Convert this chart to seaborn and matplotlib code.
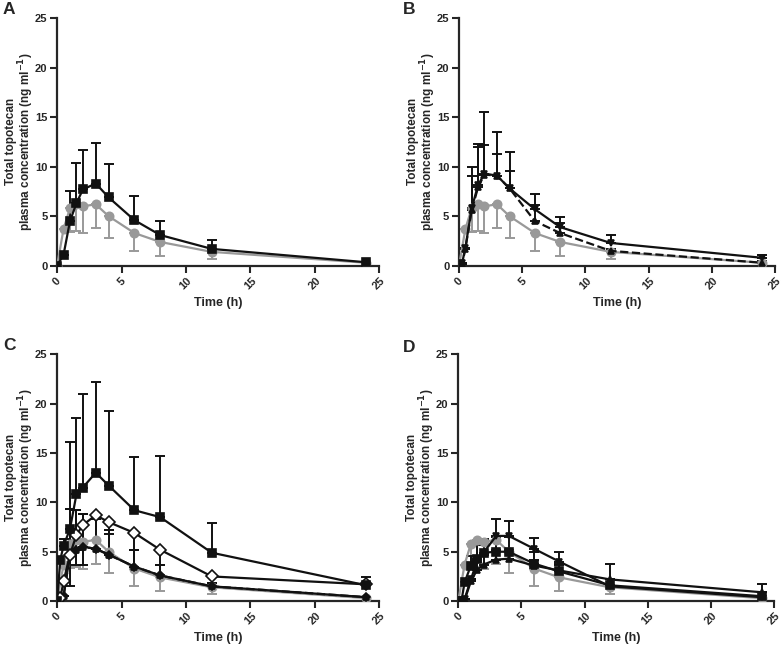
import numpy as np
import pandas as pd
import matplotlib
matplotlib.use("Agg")
import matplotlib.pyplot as plt
import seaborn as sns

sns.set_style("ticks")
plt.rcParams['font.family'] = ['Liberation Sans', 'DejaVu Sans']
plt.rcParams['font.weight'] = 'bold'

# time points (h)
t_full = [0, 0.25, 0.5, 1, 1.5, 2, 3, 4, 6, 8, 12, 24]
t_std = [0, 0.5, 1, 1.5, 2, 3, 4, 6, 8, 12, 24]

# reference (grey circles), same in every panel
ref_conc = [0, 3.7, 5.8, 6.2, 6.0, 6.2, 5.0, 3.3, 2.4, 1.4, 0.3]
ref_low = [0, 0, 2.4, 2.7, 2.7, 2.4, 2.2, 1.8, 1.4, 0.7, 0]

# panel A
a_sq = [0, 1.1, 4.5, 6.3, 7.7, 8.3, 6.9, 4.6, 3.1, 1.7, 0.35]
a_sq_up = [0, 0, 3.0, 4.1, 4.0, 4.1, 3.4, 2.4, 1.4, 0.9, 0]

# panel B
b_down = [0, 0.3, 1.8, 5.8, 8.1, 9.3, 9.1, 7.8, 5.7, 3.9, 2.3, 0.8]
b_down_up = [0, 0, 0, 4.2, 4.2, 6.2, 4.4, 3.7, 1.5, 1.0, 0.8, 0.3]
b_up = [0, 0.2, 1.7, 5.6, 7.9, 9.2, 9.1, 7.8, 4.5, 3.3, 1.5, 0.3]
b_up_up = [0, 0, 0, 3.5, 4.1, 3.0, 2.2, 1.8, 1.6, 1.0, 0.2, 0.2]

# panel C
c_sq = [0, 4.2, 5.6, 7.3, 10.8, 11.5, 13.0, 11.7, 9.2, 8.5, 4.9, 1.6]
c_sq_up = [0, 0, 0.7, 8.8, 7.7, 9.5, 9.2, 7.5, 5.4, 6.2, 3.0, 0.8]
c_open = [0, 0.3, 2.0, 4.7, 6.7, 7.7, 8.7, 8.0, 6.9, 5.2, 2.5, 1.7]
c_open_low = [0, 0, 0, 3.2, 3.0, 4.0, 0.4, 1.2, 1.7, 1.5, 0, 0]
c_fill = [0, 0.3, 0.5, 4.7, 5.2, 5.5, 5.3, 4.7, 3.5, 2.6, 1.5, 0.4]
c_fill_up = [0, 0, 0, 4.6, 4.0, 3.3, 3.0, 2.5, 1.7, 1.1, 0.3, 0]

# panel D
d_sq = [0, 0, 1.9, 3.6, 4.3, 4.9, 5.0, 5.0, 3.8, 3.0, 1.6, 0.5]
d_sq_up = [0, 0, 0, 1.0, 1.4, 1.4, 1.5, 1.5, 1.2, 0.8, 0, 0]
d_down = [0, 0, 0.2, 2.2, 4.1, 4.9, 6.6, 6.6, 5.3, 4.0, 1.5, 0.4]
d_down_up = [0, 0, 0, 0, 1.6, 1.4, 1.7, 1.5, 1.1, 1.0, 0, 0]
d_tri = [0, 0, 0.1, 2.0, 3.2, 3.7, 4.2, 4.3, 3.6, 3.1, 2.2, 0.9]
d_tri_up = [0, 0, 0, 0, 0.8, 1.0, 1.0, 0.9, 0.6, 0.6, 1.6, 0.8]

ticks = [0, 5, 10, 15, 20, 25]
GREY = '#999999'
BLACK = '#111111'


def draw(ax, t, y, err, marker, color, ls='-', mfc=None, down=False, ms=6):
    df = pd.DataFrame({'t': t, 'y': y})
    err = np.array(err)
    yerr = [err, np.zeros_like(err)] if down else [np.zeros_like(err), err]
    ax.errorbar(df['t'], df['y'], yerr=yerr, fmt='none', ecolor=color,
                elinewidth=1.4, capsize=3.5, capthick=1.4, zorder=2)
    sns.lineplot(data=df, x='t', y='y', ax=ax, color=color, linestyle=ls,
                 marker=marker, markersize=ms, linewidth=1.6,
                 markerfacecolor=mfc if mfc else color,
                 markeredgecolor=color, markeredgewidth=1.2, zorder=3)


fig = plt.figure(figsize=(7.82, 6.45), dpi=100)
pos = {
    'A': [0.073, 0.588, 0.412, 0.384],
    'B': [0.587, 0.588, 0.404, 0.384],
    'C': [0.073, 0.068, 0.412, 0.383],
    'D': [0.586, 0.068, 0.404, 0.383],
}
letter_xy = {'A': (3, 2), 'B': (403, 2), 'C': (3, 338), 'D': (403, 340)}
axes = {k: fig.add_axes(v) for k, v in pos.items()}

for k, ax in axes.items():
    draw(ax, t_std, ref_conc, ref_low, 'o', GREY, down=True)

draw(axes['A'], t_std, a_sq, a_sq_up, 's', BLACK)

draw(axes['B'], t_full, b_up, b_up_up, '^', BLACK, ls='--', ms=5)
draw(axes['B'], t_full, b_down, b_down_up, 'v', BLACK, ms=5)

draw(axes['C'], t_full, c_fill, c_fill_up, '^', BLACK, ls='--', ms=5)
draw(axes['C'], t_full, c_fill, c_fill_up, 'D', BLACK, ms=4.5)
draw(axes['C'], t_full, c_open, c_open_low, 'D', BLACK, mfc='white', down=True, ms=6)
draw(axes['C'], t_full, c_sq, c_sq_up, 's', BLACK)

draw(axes['D'], t_full, d_tri, d_tri_up, '^', BLACK, ms=5)
draw(axes['D'], t_full, d_sq, d_sq_up, 's', BLACK)
draw(axes['D'], t_full, d_down, d_down_up, 'v', BLACK, ms=5)

for k, ax in axes.items():
    ax.set_xlim(0, 25)
    ax.set_ylim(0, 25)
    ax.set_xticks(ticks)
    ax.set_yticks(ticks)
    ax.set_xticklabels(ticks, rotation=45, fontsize=8, fontweight='bold')
    ax.set_yticklabels(ticks, fontsize=8, fontweight='bold')
    ax.tick_params(width=1.5, length=5, pad=2)
    for s in ['left', 'bottom']:
        ax.spines[s].set_linewidth(1.6)
    sns.despine(ax=ax)
    ax.set_xlabel('Time (h)', fontsize=9, fontweight='bold', labelpad=4)
    ax.set_ylabel('Total topotecan\nplasma concentration (ng ml$^{\\mathbf{-1}}$)',
                  fontsize=8.5, fontweight='bold', linespacing=0.95)
    ax.yaxis.set_label_coords(-0.066, 0.5)
    lx, ly = letter_xy[k]
    fig.text(lx / 782, 1 - ly / 645, k, fontsize=12.5, fontweight='bold',
             ha='left', va='top')

fig.savefig('out.png', dpi=100)
